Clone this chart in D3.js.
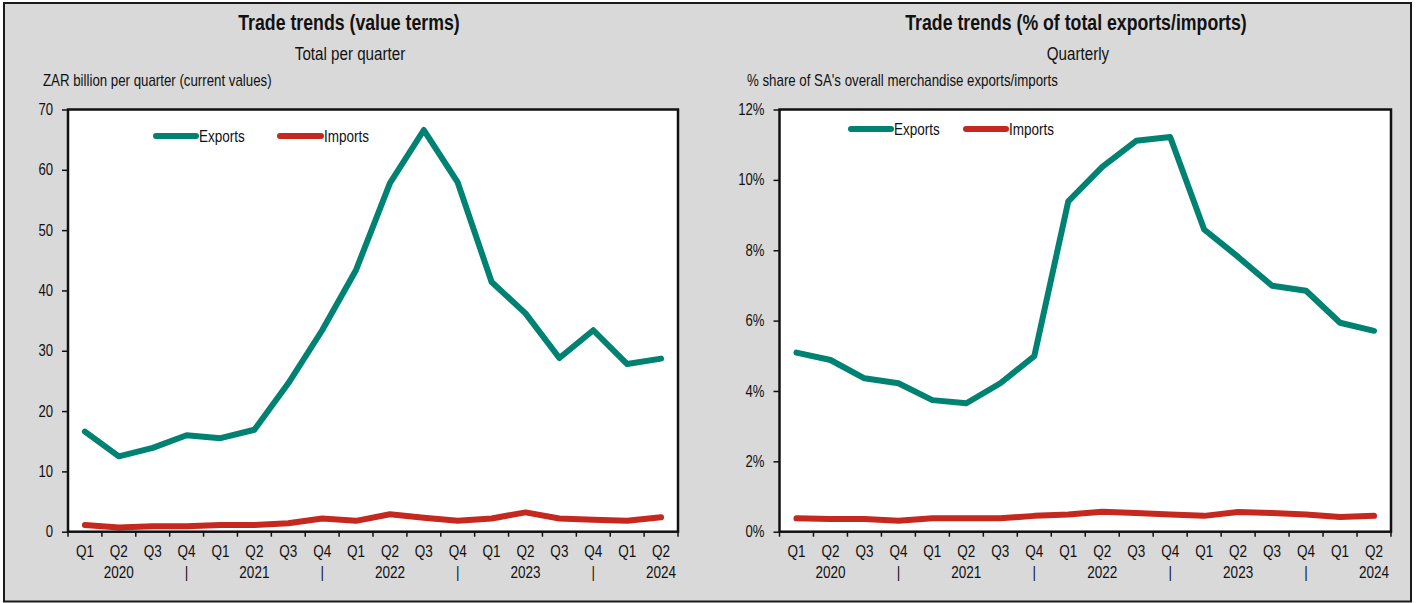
<!DOCTYPE html>
<html>
<head>
<meta charset="utf-8">
<script src="https://cdn.jsdelivr.net/npm/d3@7/dist/d3.min.js"></script>
<style>
  html, body { margin: 0; padding: 0; background: #ffffff; }
  svg { display: block; }
  text { font-family: "Liberation Sans", Arial, sans-serif; fill: #111; }
</style>
</head>
<body>
<svg id="chart" width="1418" height="603"></svg>
<script>
// ---------------- DATA ----------------
const quarters = ["Q1","Q2","Q3","Q4","Q1","Q2","Q3","Q4","Q1","Q2","Q3","Q4","Q1","Q2","Q3","Q4","Q1","Q2"];
const yearRow  = ["","2020","","|","","2021","","|","","2022","","|","","2023","","|","","2024"];
const categories = quarters.map((q, i) => i + ":" + q);

// ZAR billion per quarter
const exportsValue = [16.6, 12.5, 13.9, 16.0, 15.5, 16.9, 24.6, 33.4, 43.4, 57.8, 66.6, 57.9, 41.4, 36.2, 28.8, 33.4, 27.8, 28.7];
const importsValue = [1.1, 0.7, 0.9, 0.9, 1.1, 1.1, 1.4, 2.2, 1.8, 2.9, 2.3, 1.8, 2.2, 3.2, 2.2, 2.0, 1.8, 2.4];

// % share of SA's overall merchandise exports/imports
const exportsShare = [0.0509, 0.0488, 0.0436, 0.0422, 0.0374, 0.0365, 0.0422, 0.0499, 0.0939, 0.1037, 0.1111, 0.1122, 0.0859, 0.0781, 0.0699, 0.0685, 0.0594, 0.0571];
const importsShare = [0.0038, 0.0036, 0.0036, 0.0031, 0.0038, 0.0038, 0.0038, 0.0045, 0.0049, 0.0057, 0.0053, 0.0049, 0.0045, 0.0056, 0.0053, 0.0049, 0.0042, 0.0045];

const valueTicks = [0, 10, 20, 30, 40, 50, 60, 70];
const shareTicks = [0, 0.02, 0.04, 0.06, 0.08, 0.10, 0.12];

const seriesNames = ["Exports", "Imports"];
const seriesColors = ["#008273", "#C4281F"];

// ---------------- DRAW ----------------
const svg = d3.select("#chart");
const NARROW = 0.82;

// emulate a narrow typeface by horizontally condensing text around its anchor
function narrow(sel) {
  sel.each(function () {
    const t = d3.select(this);
    const x = +t.attr("x") || 0, y = +t.attr("y") || 0;
    t.attr("x", 0).attr("y", 0).attr("transform", `translate(${x},${y}) scale(${NARROW},1)`);
  });
}

// outer frame
svg.append("rect")
  .attr("x", 4).attr("y", 3).attr("width", 1407).attr("height", 598.5)
  .attr("fill", "#D9D9D9").attr("stroke", "#1a1a1a").attr("stroke-width", 2);

function drawPanel(cfg) {
  const g = svg.append("g");
  const x = d3.scaleBand().domain(categories).range([cfg.left, cfg.right]).padding(0);
  const y = d3.scaleLinear().domain([0, d3.max(cfg.ticks)]).range([cfg.bottom, cfg.top]);

  // titles
  g.append("text").attr("x", cfg.titleX).attr("y", 22).attr("text-anchor", "middle")
    .attr("dy", "0.35em").style("font-size", "21.6px").style("font-weight", "bold").text(cfg.title).call(narrow);
  g.append("text").attr("x", cfg.subX).attr("y", 54).attr("text-anchor", "middle")
    .attr("dy", "0.35em").style("font-size", "18.5px").text(cfg.subtitle).call(narrow);
  g.append("text").attr("x", cfg.unitX).attr("y", 80).attr("text-anchor", "start")
    .attr("dy", "0.35em").style("font-size", "16.2px").text(cfg.unit).call(narrow);

  // plot background
  g.append("rect").attr("x", cfg.left).attr("y", cfg.top)
    .attr("width", cfg.right - cfg.left).attr("height", cfg.bottom - cfg.top)
    .attr("fill", "#ffffff");

  // y axis
  const yAxis = d3.axisLeft(y).tickValues(cfg.ticks).tickSize(6).tickPadding(9).tickFormat(cfg.fmt);
  const ya = g.append("g").attr("transform", `translate(${cfg.left},0)`).call(yAxis);
  ya.select(".domain").remove();
  ya.selectAll(".tick line").attr("stroke", "#111").attr("stroke-width", 1.5);
  ya.selectAll(".tick text").style("font-size", "16px").attr("fill", "#111")
    .style("font-family", '"Liberation Sans", Arial, sans-serif').call(narrow);

  // x axis ticks at category boundaries
  const bounds = categories.map(c => x(c)).concat([cfg.right]);
  g.selectAll(".xtick").data(bounds).enter().append("line")
    .attr("x1", d => d).attr("x2", d => d)
    .attr("y1", cfg.bottom).attr("y2", cfg.bottom + 5)
    .attr("stroke", "#111").attr("stroke-width", 1.5);

  // x labels (two rows)
  g.selectAll(".xq").data(categories).enter().append("text")
    .attr("x", d => x(d) + x.bandwidth() / 2).attr("y", 551.5)
    .attr("text-anchor", "middle").attr("dy", "0.35em").style("font-size", "16.5px")
    .text((d, i) => quarters[i]).call(narrow);
  g.selectAll(".xy").data(categories).enter().append("text")
    .attr("x", d => x(d) + x.bandwidth() / 2).attr("y", 572)
    .attr("text-anchor", "middle").attr("dy", "0.35em").style("font-size", "16.5px")
    .text((d, i) => yearRow[i]).call(narrow);

  // lines
  const line = d3.line().x((d, i) => x(categories[i]) + x.bandwidth() / 2).y(d => y(d));
  [cfg.exports, cfg.imports].forEach((vals, k) => {
    g.append("path").datum(vals).attr("d", line)
      .attr("fill", "none").attr("stroke", seriesColors[k]).attr("stroke-width", 6)
      .attr("stroke-linecap", "round").attr("stroke-linejoin", "round");
  });

  // plot border
  g.append("rect").attr("x", cfg.left).attr("y", cfg.top)
    .attr("width", cfg.right - cfg.left).attr("height", cfg.bottom - cfg.top)
    .attr("fill", "none").attr("stroke", "#111").attr("stroke-width", 2.5);

  // legend
  cfg.legend.forEach((lg, k) => {
    g.append("line").attr("x1", lg.x1).attr("x2", lg.x2).attr("y1", cfg.legendY).attr("y2", cfg.legendY)
      .attr("stroke", seriesColors[k]).attr("stroke-width", 6).attr("stroke-linecap", "round");
    g.append("text").attr("x", lg.x2 + 3).attr("y", cfg.legendY).attr("dy", "0.35em")
      .style("font-size", "16.5px").text(seriesNames[k]).call(narrow);
  });
}

drawPanel({
  left: 68, right: 678, top: 109.5, bottom: 531.7,
  ticks: valueTicks, fmt: d3.format("d"),
  title: "Trade trends (value terms)", titleX: 349,
  subtitle: "Total per quarter", subX: 350,
  unit: "ZAR billion per quarter (current values)", unitX: 43,
  exports: exportsValue, imports: importsValue,
  legendY: 136, legend: [{x1: 156, x2: 196}, {x1: 280, x2: 321}]
});

drawPanel({
  left: 779.5, right: 1391, top: 109.5, bottom: 531.7,
  ticks: shareTicks, fmt: d3.format(".0%"),
  title: "Trade trends (% of total exports/imports)", titleX: 1076,
  subtitle: "Quarterly", subX: 1078,
  unit: "% share of SA's overall merchandise exports/imports", unitX: 747,
  exports: exportsShare, imports: importsShare,
  legendY: 129, legend: [{x1: 851, x2: 891}, {x1: 966, x2: 1006}]
});
</script>
</body>
</html>
